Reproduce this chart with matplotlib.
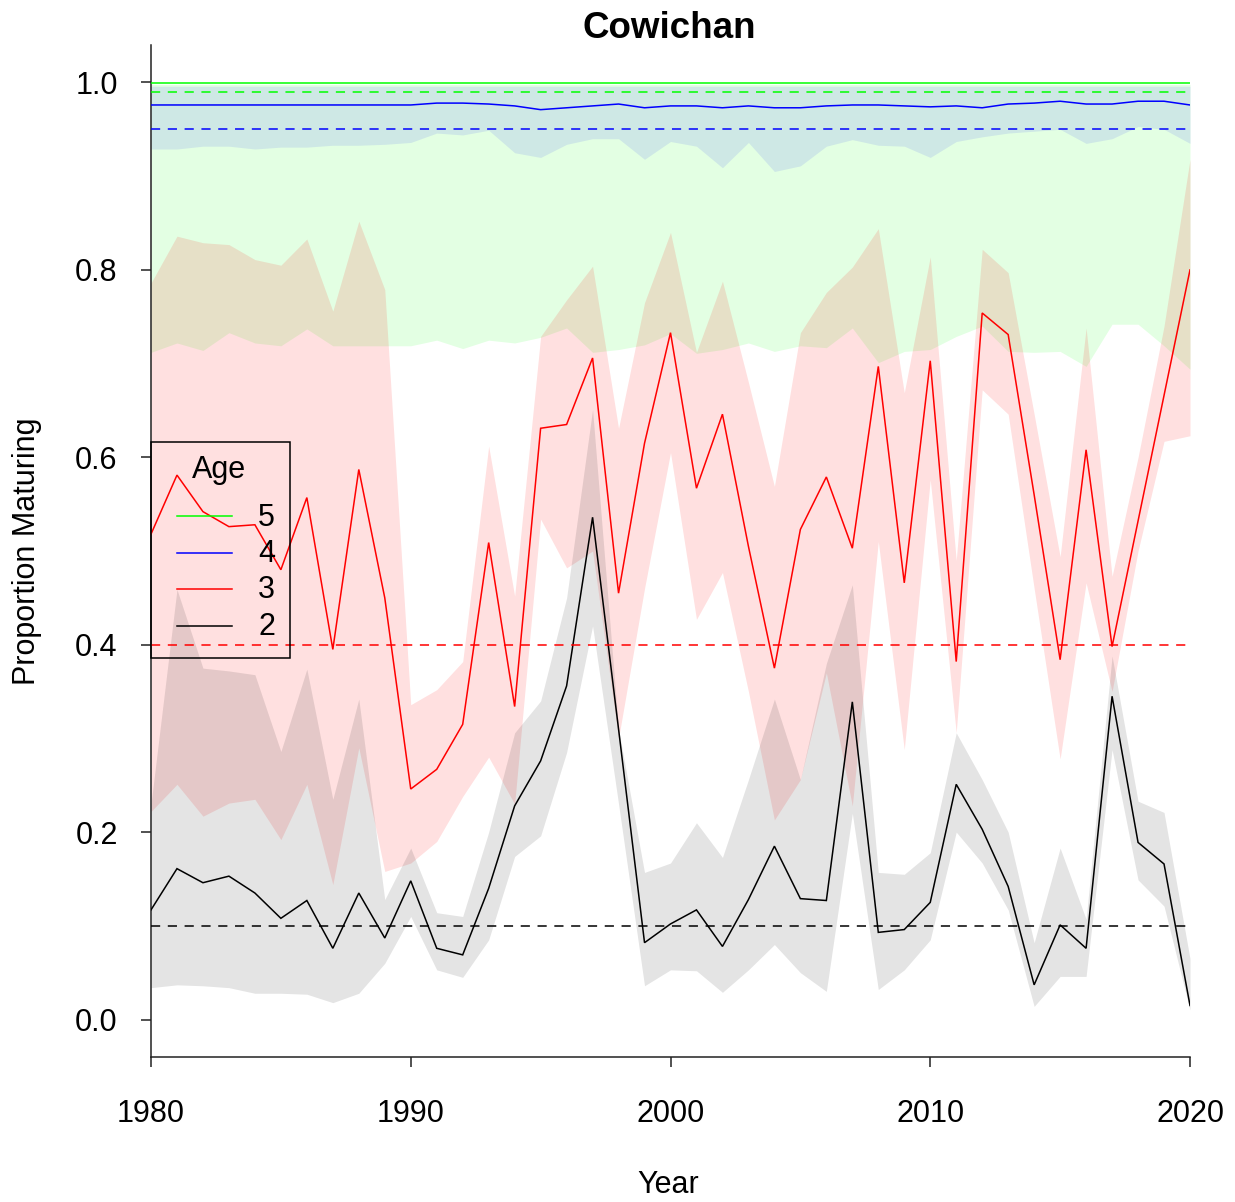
import matplotlib
matplotlib.use("Agg")
import matplotlib.pyplot as plt
from matplotlib.lines import Line2D
from matplotlib.patches import Rectangle

plt.rcParams['font.family'] = ['Liberation Sans', 'DejaVu Sans']

years = list(range(1980, 2021))

age2 = [0.117, 0.161, 0.146, 0.153, 0.135, 0.108, 0.127, 0.076, 0.135, 0.087,
        0.148, 0.076, 0.069, 0.140, 0.228, 0.276, 0.356, 0.536, 0.310, 0.082,
        0.102, 0.117, 0.078, 0.128, 0.185, 0.129, 0.127, 0.339, 0.093, 0.096,
        0.125, 0.251, 0.203, 0.142, 0.037, 0.101, 0.076, 0.345, 0.189, 0.166, 0.015]
age2_lo = [0.034, 0.037, 0.036, 0.034, 0.028, 0.028, 0.027, 0.018, 0.028, 0.060,
           0.110, 0.053, 0.045, 0.085, 0.174, 0.196, 0.285, 0.420, 0.230, 0.036,
           0.053, 0.052, 0.029, 0.053, 0.080, 0.050, 0.030, 0.220, 0.032, 0.053,
           0.085, 0.200, 0.167, 0.117, 0.014, 0.046, 0.046, 0.288, 0.149, 0.121, 0.010]
age2_hi = [0.230, 0.459, 0.375, 0.372, 0.368, 0.286, 0.374, 0.235, 0.342, 0.128,
           0.183, 0.114, 0.110, 0.200, 0.306, 0.340, 0.450, 0.651, 0.310, 0.157,
           0.167, 0.210, 0.173, 0.256, 0.342, 0.256, 0.380, 0.464, 0.157, 0.155,
           0.178, 0.306, 0.256, 0.200, 0.082, 0.183, 0.107, 0.388, 0.233, 0.221, 0.065]

age3 = [0.518, 0.581, 0.542, 0.526, 0.528, 0.480, 0.557, 0.395, 0.587, 0.450,
        0.246, 0.267, 0.315, 0.509, 0.334, 0.631, 0.635, 0.706, 0.455, 0.615,
        0.733, 0.567, 0.646, 0.505, 0.375, 0.523, 0.579, 0.503, 0.697, 0.466,
        0.703, 0.382, 0.754, 0.731, 0.560, 0.384, 0.608, 0.398, 0.532, 0.666, 0.800]
age3_lo = [0.222, 0.251, 0.217, 0.231, 0.235, 0.192, 0.251, 0.144, 0.290, 0.158,
           0.167, 0.190, 0.238, 0.280, 0.230, 0.534, 0.482, 0.500, 0.300, 0.460,
           0.605, 0.427, 0.477, 0.350, 0.213, 0.256, 0.370, 0.228, 0.510, 0.288,
           0.576, 0.306, 0.672, 0.646, 0.460, 0.278, 0.466, 0.350, 0.500, 0.617, 0.623]
age3_hi = [0.786, 0.836, 0.829, 0.827, 0.811, 0.805, 0.833, 0.756, 0.852, 0.779,
           0.336, 0.352, 0.382, 0.612, 0.452, 0.729, 0.768, 0.804, 0.631, 0.765,
           0.840, 0.712, 0.788, 0.680, 0.569, 0.733, 0.776, 0.803, 0.844, 0.669,
           0.814, 0.490, 0.822, 0.797, 0.646, 0.494, 0.738, 0.473, 0.600, 0.740, 0.918]

age4 = [0.976, 0.976, 0.976, 0.976, 0.976, 0.976, 0.976, 0.976, 0.976, 0.976,
        0.976, 0.978, 0.978, 0.977, 0.975, 0.971, 0.973, 0.975, 0.977, 0.973,
        0.975, 0.975, 0.973, 0.975, 0.973, 0.973, 0.975, 0.976, 0.976, 0.975,
        0.974, 0.975, 0.973, 0.977, 0.978, 0.980, 0.977, 0.977, 0.980, 0.980, 0.976]
age4_lo = [0.929, 0.929, 0.932, 0.932, 0.929, 0.931, 0.931, 0.933, 0.933, 0.934,
           0.936, 0.946, 0.944, 0.949, 0.925, 0.920, 0.934, 0.940, 0.940, 0.918,
           0.937, 0.932, 0.909, 0.936, 0.905, 0.911, 0.932, 0.939, 0.933, 0.932,
           0.920, 0.937, 0.942, 0.946, 0.948, 0.950, 0.935, 0.940, 0.953, 0.950, 0.935]
age4_hi = [0.996, 0.996, 0.996, 0.996, 0.996, 0.996, 0.996, 0.996, 0.996, 0.996,
           0.996, 0.996, 0.996, 0.996, 0.996, 0.996, 0.996, 0.996, 0.996, 0.996,
           0.996, 0.996, 0.996, 0.996, 0.996, 0.996, 0.996, 0.996, 0.996, 0.996,
           0.996, 0.996, 0.996, 0.996, 0.996, 0.996, 0.996, 0.996, 0.996, 0.996, 0.996]

age5 = [0.999, 0.999, 0.999, 0.999, 0.999, 0.999, 0.999, 0.999, 0.999, 0.999,
        0.999, 0.999, 0.999, 0.999, 0.999, 0.999, 0.999, 0.999, 0.999, 0.999,
        0.999, 0.999, 0.999, 0.999, 0.999, 0.999, 0.999, 0.999, 0.999, 0.999,
        0.999, 0.999, 0.999, 0.999, 0.999, 0.999, 0.999, 0.999, 0.999, 0.999, 0.999]
age5_lo = [0.712, 0.722, 0.714, 0.733, 0.722, 0.719, 0.737, 0.719, 0.719, 0.719,
           0.719, 0.725, 0.716, 0.725, 0.722, 0.728, 0.738, 0.712, 0.715, 0.720,
           0.732, 0.711, 0.715, 0.722, 0.713, 0.719, 0.717, 0.738, 0.701, 0.713,
           0.715, 0.729, 0.740, 0.713, 0.712, 0.713, 0.697, 0.742, 0.742, 0.719, 0.694]
age5_hi = [0.998, 0.998, 0.998, 0.998, 0.998, 0.998, 0.998, 0.998, 0.998, 0.998,
           0.998, 0.998, 0.998, 0.998, 0.998, 0.998, 0.998, 0.998, 0.998, 0.998,
           0.998, 0.998, 0.998, 0.998, 0.998, 0.998, 0.998, 0.998, 0.998, 0.998,
           0.998, 0.998, 0.998, 0.998, 0.998, 0.998, 0.998, 0.998, 0.998, 0.998, 0.998]

age_labels = ["5", "4", "3", "2"]
line_colors = ["#00FF00", "#0000FF", "#FF0000", "#000000"]
targets = [0.99, 0.95, 0.40, 0.10]
x_ticks = [1980, 1990, 2000, 2010, 2020]
y_ticks = [0.0, 0.2, 0.4, 0.6, 0.8, 1.0]

series = [(age5, age5_lo, age5_hi), (age4, age4_lo, age4_hi),
          (age3, age3_lo, age3_hi), (age2, age2_lo, age2_hi)]
band_alpha = [0.11, 0.09, 0.12, 0.105]

W, H = 1235, 1202
fig = plt.figure(figsize=(W / 100, H / 100), dpi=100)
ax_l, ax_r, ax_t, ax_b = 151, 1190, 45.0, 1057.0
ax = fig.add_axes([ax_l / W, 1 - ax_b / H, (ax_r - ax_l) / W, (ax_b - ax_t) / H])
ax.set_xlim(1980, 2020)
ax.set_ylim(-0.04, 1.04)

for (mid, lo, hi), col, a in zip(series, line_colors, band_alpha):
    ax.fill_between(years, lo, hi, color=col, alpha=a, linewidth=0, zorder=1)
for (mid, lo, hi), col in zip(series, line_colors):
    ax.plot(years, mid, color=col, lw=1.1, zorder=3, solid_joinstyle='miter')
for t, col in zip(targets, line_colors):
    ax.axhline(t, color=col, lw=1.1, ls=(0, (6, 5)), zorder=4)

for s in ['top', 'right']:
    ax.spines[s].set_visible(False)
for s in ['left', 'bottom']:
    ax.spines[s].set_linewidth(1.1)
    ax.spines[s].set_color('#222222')

ax.set_xticks(x_ticks)
ax.set_xticklabels([str(v) for v in x_ticks])
ax.set_yticks(y_ticks)
ax.set_yticklabels([f"{v:.1f}" for v in y_ticks])
ax.tick_params(axis='both', direction='out', length=7, width=1.1, colors='#222222',
               labelsize=22, labelcolor='black')
ax.tick_params(axis='x', pad=23)
ax.tick_params(axis='y', pad=17)

fig.text(669 / W, 1 - 28 / H, "Cowichan", ha='center', va='center',
         fontsize=26.5, fontweight='bold')
fig.text(668 / W, 1 - 1185 / H, "Year", ha='center', va='center', fontsize=22)
fig.text(27 / W, 1 - 551 / H, "Proportion Maturing", ha='center', va='center',
         fontsize=22, rotation=90)

# legend (transparent, framed)
def ax_frac(px, py):
    return ((px - ax_l) / (ax_r - ax_l), (ax_b - py) / (ax_b - ax_t))

x0, y0 = ax_frac(151, 658)
x1, y1 = ax_frac(290, 442)
ax.add_patch(Rectangle((x0, y0), x1 - x0, y1 - y0, transform=ax.transAxes,
                       facecolor='none', edgecolor='black', lw=1.1, zorder=6,
                       clip_on=False))
tx, ty = ax_frac(219, 470)
ax.text(tx, ty, "Age", transform=ax.transAxes, ha='center', va='center',
        fontsize=22, zorder=7)
for i, (lab, col) in enumerate(zip(age_labels, line_colors)):
    py = 516 + i * 36.5
    lx0, ly = ax_frac(177, py)
    lx1, _ = ax_frac(232, py)
    ax.add_line(Line2D([lx0, lx1], [ly, ly], transform=ax.transAxes, color=col,
                       lw=1.1, zorder=7))
    txx, lty = ax_frac(258, py + 1.5)
    ax.text(txx, lty, lab, transform=ax.transAxes, ha='left', va='center',
            fontsize=22, zorder=7)

fig.savefig("out.png", dpi=100)
